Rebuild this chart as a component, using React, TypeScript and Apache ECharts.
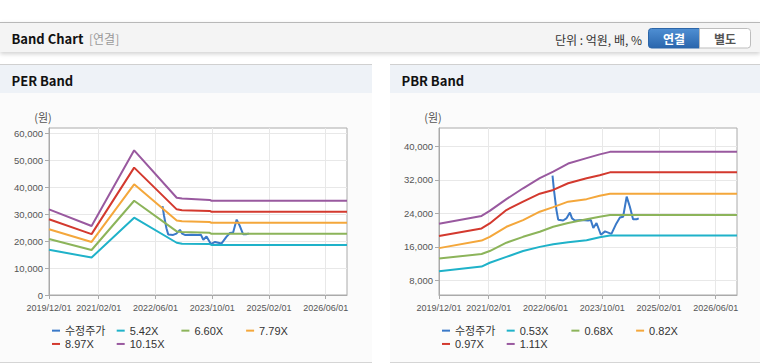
import React, { useEffect, useRef } from 'react';
import * as echarts from 'echarts';

// ---------- data ----------
const xStart = '2019/12/01';
const xEnd = '2026/12/01';
const xTickDates = ['2019/12/01', '2021/02/01', '2022/06/01', '2023/10/01', '2025/02/01', '2026/06/01'];

const priceDates = [
  '2022/08/01', '2022/08/13', '2022/09/04', '2022/09/19', '2022/11/01', '2022/11/28', '2022/12/28',
  '2023/01/16', '2023/02/10', '2023/04/07', '2023/06/01', '2023/06/25', '2023/07/16', '2023/08/13',
  '2023/09/20', '2023/10/25', '2023/11/22', '2023/12/19', '2024/02/01', '2024/03/01', '2024/03/28',
  '2024/04/28', '2024/05/25', '2024/06/22', '2024/07/22', '2024/08/10',
];
const priceValues = [
  33000, 29600, 24800, 22500, 22300, 22800, 24200,
  22800, 22300, 22400, 22300, 22400, 20500, 21700,
  18900, 19700, 19400, 19100, 21600, 23000, 23200,
  28000, 25600, 22600, 22600, 22800,
];

const perBandDates = ['2019/12/01', '2020/12/01', '2021/12/01', '2022/12/01', '2023/01/16', '2023/09/10', '2023/09/25', '2026/12/01'];
const per542 = [16800, 13900, 28700, 19400, 19000, 18900, 18600, 18600];
const per660 = [20800, 16700, 35000, 23600, 23400, 23100, 22700, 22700];
const per779 = [24400, 19700, 41100, 27700, 27400, 27100, 26800, 26800];
const per897 = [28100, 22600, 47300, 31800, 31500, 31200, 30900, 30900];
const per1015 = [31800, 25600, 53700, 36100, 35800, 35300, 35000, 35000];

const pbrBandDates = ['2019/12/01', '2020/12/01', '2021/02/10', '2021/07/01', '2021/11/22', '2022/04/13', '2022/08/07', '2022/12/13', '2023/05/19', '2023/09/10', '2023/12/07', '2026/12/01'];
const pbr053 = [10200, 11300, 12200, 13600, 15000, 16000, 16600, 17100, 17600, 18300, 18700, 18700];
const pbr068 = [13200, 14300, 15000, 17000, 18400, 19600, 20800, 21700, 22600, 23200, 23600, 23600];
const pbr082 = [15700, 17500, 18400, 20800, 22400, 24400, 25500, 26800, 27400, 28200, 28700, 28700];
const pbr097 = [18600, 20400, 21600, 24800, 26800, 28700, 29600, 31200, 32400, 33100, 33800, 33800];
const pbr111 = [21500, 23400, 24600, 27400, 30000, 32400, 34000, 35900, 37200, 38100, 38700, 38700];

const perNames = ['수정주가', '5.42X', '6.60X', '7.79X', '8.97X', '10.15X'];
const pbrNames = ['수정주가', '0.53X', '0.68X', '0.82X', '0.97X', '1.11X'];
const perYTicks = [0, 10000, 20000, 30000, 40000, 50000, 60000];
const pbrYTicks = [8000, 16000, 24000, 32000, 40000];

// ---------- styles ----------
const FONT = "'Liberation Sans', 'Noto Sans CJK KR', sans-serif";
const KFONT = "'Noto Sans CJK KR', 'Liberation Sans', sans-serif";
const colors = ['#3a79c8', '#1fb2c9', '#8cb45a', '#f4a73b', '#d3392e', '#99599f'];
const axisGray = '#aaaaaa';
const gridLineColor = '#e8e8e8';
const labelColor = '#555555';

function toIdx(d: string): number {
  const [y, m, day] = d.split('/').map(Number);
  return (y - 2019) * 12 + (m - 12) + (day - 1) / 30;
}

function pairs(dates: string[], vals: number[]) {
  return dates.map((d, i) => [toIdx(d), vals[i]]);
}

function xLabel(v: number): string {
  const d = xTickDates.find((t) => Math.abs(toIdx(t) - v) < 0.01);
  return d || '';
}

function xAxisCfg(gridIndex: number) {
  const ticks = xTickDates.map(toIdx);
  return {
    type: 'value',
    gridIndex,
    min: toIdx(xStart),
    max: toIdx(xEnd),
    axisLine: { show: true, onZero: false, lineStyle: { color: axisGray } },
    axisTick: { show: true, length: 4, lineStyle: { color: axisGray }, customValues: ticks },
    axisLabel: {
      customValues: ticks,
      formatter: (v: number) => xLabel(v),
      color: labelColor,
      fontSize: 9,
      fontFamily: FONT,
      margin: 8,
    },
    splitLine: { show: true, lineStyle: { color: gridLineColor } },
  };
}

function yAxisCfg(gridIndex: number, min: number, max: number, ticks: number[]) {
  return {
    type: 'value',
    gridIndex,
    min,
    max,
    name: '(원)',
    nameLocation: 'end',
    nameGap: 6,
    nameTextStyle: { color: labelColor, fontSize: 11, fontFamily: KFONT, padding: [0, 12, 0, 0] },
    axisLine: { show: true, onZero: false, lineStyle: { color: axisGray } },
    axisTick: { show: true, length: 4, lineStyle: { color: axisGray }, customValues: ticks },
    axisLabel: {
      customValues: ticks,
      formatter: (v: number) => v.toLocaleString('en-US'),
      color: labelColor,
      fontSize: 9.5,
      fontFamily: FONT,
      margin: 6,
    },
    splitLine: { show: true, lineStyle: { color: gridLineColor } },
  };
}

function legendCfg(left: number, names: string[]) {
  return {
    left,
    top: 324,
    width: 270,
    orient: 'horizontal',
    padding: 0,
    itemWidth: 8,
    itemHeight: 2,
    itemGap: 0,
    icon: 'rect',
    data: names,
    textStyle: { fontSize: 11, color: '#333', fontFamily: FONT, width: 51.7, height: 13.3, lineHeight: 13.3 },
  };
}

function lineSeries(name: string, data: number[][], axis: number, color: string, z: number) {
  return {
    type: 'line',
    name,
    data,
    xAxisIndex: axis,
    yAxisIndex: axis,
    showSymbol: false,
    symbol: 'none',
    color,
    lineStyle: { width: 2, color },
    z,
  };
}

function buildOption() {
  const perBands = [per542, per660, per779, per897, per1015];
  const pbrBands = [pbr053, pbr068, pbr082, pbr097, pbr111];
  const series: any[] = [];
  series.push(lineSeries(perNames[0], pairs(priceDates, priceValues), 0, colors[0], 2));
  perBands.forEach((b, i) => series.push(lineSeries(perNames[i + 1], pairs(perBandDates, b), 0, colors[i + 1], 3)));
  series.push(lineSeries(pbrNames[0], pairs(priceDates, priceValues), 1, colors[0], 2));
  pbrBands.forEach((b, i) => series.push(lineSeries(pbrNames[i + 1], pairs(pbrBandDates, b), 1, colors[i + 1], 3)));

  const graphic: any[] = [
    // header bar
    { type: 'rect', z: -20, shape: { x: 0, y: 22, width: 760, height: 30 }, style: { fill: '#f4f4f4', shadowBlur: 4, shadowOffsetY: 2, shadowColor: 'rgba(0,0,0,0.18)' } },
    { type: 'line', z: -19, shape: { x1: 0, y1: 22.5, x2: 760, y2: 22.5 }, style: { stroke: '#b8b8b8', lineWidth: 1 } },
    { type: 'text', z: -18, x: 11.5, y: 38, style: { text: 'Band Chart', fontSize: 13, fontWeight: 'bold', fill: '#111', fontFamily: KFONT, verticalAlign: 'middle', align: 'left' } },
    { type: 'text', z: -18, x: 89, y: 38, style: { text: '[연결]', fontSize: 12, fill: '#999', fontFamily: KFONT, verticalAlign: 'middle', align: 'left' } },
    { type: 'text', z: -18, x: 642, y: 39, style: { text: '단위 : 억원, 배, %', fontSize: 12, fill: '#333', fontFamily: KFONT, verticalAlign: 'middle', align: 'right' } },
    {
      type: 'rect', z: -18, shape: { x: 648.5, y: 28.5, width: 51, height: 19.5, r: [3, 0, 0, 3] },
      style: { fill: new echarts.graphic.LinearGradient(0, 0, 0, 1, [{ offset: 0, color: '#4f8fd3' }, { offset: 1, color: '#2a66ad' }]), stroke: '#2d66a8', lineWidth: 1 },
    },
    { type: 'text', z: -17, x: 674, y: 38.5, style: { text: '연결', fontSize: 12, fontWeight: 'bold', fill: '#fff', fontFamily: KFONT, verticalAlign: 'middle', align: 'center' } },
    { type: 'rect', z: -18, shape: { x: 699.5, y: 28.5, width: 51, height: 19.5, r: [0, 3, 3, 0] }, style: { fill: '#ffffff', stroke: '#bdbdbd', lineWidth: 1 } },
    { type: 'text', z: -17, x: 725, y: 38.5, style: { text: '별도', fontSize: 12, fontWeight: 'bold', fill: '#555', fontFamily: KFONT, verticalAlign: 'middle', align: 'center' } },
  ];
  const panels = [
    { x: 0, w: 372, title: 'PER Band' },
    { x: 390, w: 370, title: 'PBR Band' },
  ];
  panels.forEach((p) => {
    graphic.push({ type: 'rect', z: -20, shape: { x: p.x, y: 93, width: p.w, height: 270 }, style: { fill: '#fbfbfb' } });
    graphic.push({ type: 'rect', z: -20, shape: { x: p.x, y: 64, width: p.w, height: 29 }, style: { fill: '#eef2f7' } });
    graphic.push({ type: 'line', z: -19, shape: { x1: p.x, y1: 64.5, x2: p.x + p.w, y2: 64.5 }, style: { stroke: '#d0d0d0', lineWidth: 1 } });
    graphic.push({ type: 'line', z: -19, shape: { x1: p.x, y1: 362.5, x2: p.x + p.w, y2: 362.5 }, style: { stroke: '#d5d5d5', lineWidth: 1 } });
    graphic.push({ type: 'text', z: -18, x: p.x + 11.5, y: 80, style: { text: p.title, fontSize: 13, fontWeight: 'bold', fill: '#111', fontFamily: KFONT, verticalAlign: 'middle', align: 'left' } });
  });

  return {
    animation: false,
    backgroundColor: '#ffffff',
    graphic,
    grid: [
      { left: 49, top: 128, width: 298, height: 167, show: true, backgroundColor: '#ffffff', borderColor: axisGray, borderWidth: 1 },
      { left: 439, top: 128, width: 298, height: 167, show: true, backgroundColor: '#ffffff', borderColor: axisGray, borderWidth: 1 },
    ],
    xAxis: [xAxisCfg(0), xAxisCfg(1)],
    yAxis: [yAxisCfg(0, 0, 62000, perYTicks), yAxisCfg(1, 4500, 44400, pbrYTicks)],
    legend: [legendCfg(52, perNames), legendCfg(442, pbrNames)],
    series,
  };
}

export default function App() {
  const ref = useRef<HTMLDivElement>(null);
  useEffect(() => {
    document.body.style.margin = '0';
    const chart = echarts.init(ref.current as HTMLDivElement, null, { renderer: 'svg' });
    chart.setOption(buildOption() as any);
    return () => chart.dispose();
  }, []);
  return <div ref={ref} style={{ width: 760, height: 364 }} />;
}
